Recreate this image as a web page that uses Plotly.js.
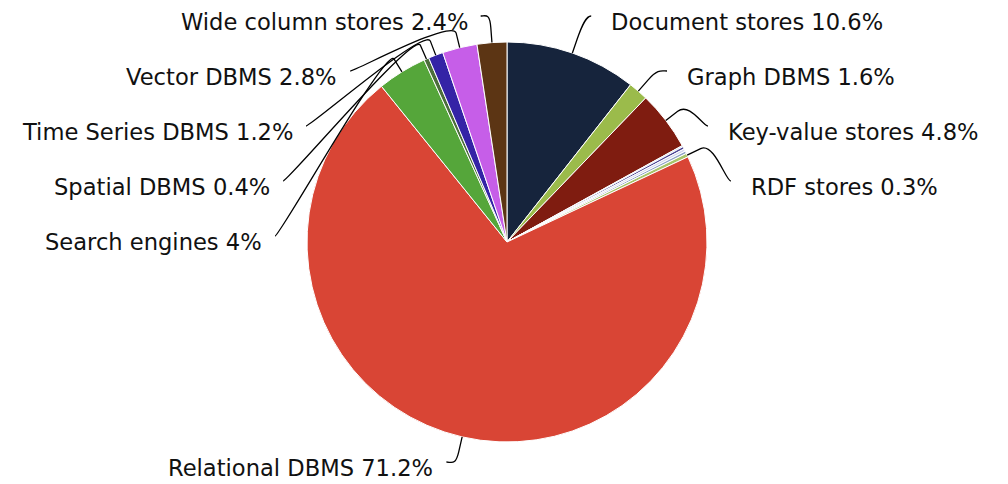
<!DOCTYPE html>
<html><head><meta charset="utf-8">
<script src="https://cdn.plot.ly/plotly-3.0.1.min.js"></script>
<style>html,body{margin:0;padding:0;background:#fff}</style>
</head><body><div id="chart" style="width:1008px;height:484px"></div>
<script>
const categories = ["Document stores","Graph DBMS","Key-value stores","Multivalue DBMS","Native XML DBMS","Navigational DBMS","Object oriented DBMS","RDF stores","Relational DBMS","Search engines","Spatial DBMS","Time Series DBMS","Vector DBMS","Wide column stores"];
const shares = [10.6, 1.6, 4.8, 0.1, 0.2, 0.2, 0.2, 0.3, 71.2, 4, 0.4, 1.2, 2.8, 2.4];
const sliceColors = ["#16243c","#9bbb4b","#7f1c10","#b3cbe6","#4d4796","#d4d6ee","#8fa3c6","#a7c46a","#d94535","#55a63a","#4b6e3b","#3423a6","#c65ee8","#5c3514"];
const minLabelShare = 0.3;

const W = 1008, H = 484;
const CX = 507, CY = 242, RAD = 200;
const LABEL_DIST = 30, BREAK_DIST = 15, CIRCLE_R = 232;
const TOP = 16, BOTTOM = 462, GAP = 55;
const FONT = {family: "DejaVu Sans", size: 22.6, color: "#111"};

const px2x = p => p / W;
const py2y = p => 1 - p / H;

const total = shares.reduce((a, b) => a + b, 0);
let cum = 0;
const items = [];
shares.forEach((v, i) => {
  const mid = (cum + v / 2) / total * 2 * Math.PI;
  cum += v;
  if (v < minLabelShare) return;
  const s = Math.sin(mid), c = Math.cos(mid);
  items.push({
    i, mid, s, c,
    left: s < 0,
    nx: CX + (RAD + LABEL_DIST) * s,
    ny: CY - (RAD + LABEL_DIST) * c,
    tx: CX + RAD * s, ty: CY - RAD * c,
    bx: CX + (RAD + BREAK_DIST) * s, by: CY - (RAD + BREAK_DIST) * c,
    text: categories[i] + " " + v + "%"
  });
});

function distribute(list) {
  list.sort((a, b) => a.ny - b.ny);
  let groups = list.map(it => ({items: [it]}));
  const place = g => {
    const n = g.items.length;
    const mean = g.items.reduce((s, it) => s + it.ny, 0) / n;
    let start = mean - (n - 1) * GAP / 2;
    start = Math.max(TOP, Math.min(start, BOTTOM - (n - 1) * GAP));
    g.start = start;
  };
  groups.forEach(place);
  let merged = true;
  while (merged) {
    merged = false;
    for (let k = 0; k < groups.length - 1; k++) {
      const a = groups[k], b = groups[k + 1];
      if (a.start + a.items.length * GAP > b.start) {
        a.items = a.items.concat(b.items);
        groups.splice(k + 1, 1);
        place(a);
        merged = true;
        break;
      }
    }
  }
  groups.forEach(g => g.items.forEach((it, j) => { it.y = g.start + j * GAP; }));
}
distribute(items.filter(it => !it.left));
distribute(items.filter(it => it.left));

const shapes = [], annotations = [];
items.forEach(it => {
  const dir = it.left ? -1 : 1;
  let xe;
  if (Math.abs(it.y - it.ny) <= 10) xe = it.nx + dir * 9;
  else xe = CX + dir * Math.sqrt(Math.max(0, CIRCLE_R * CIRCLE_R - (it.y - CY) * (it.y - CY)));
  const ye = it.y;
  const c1x = xe - dir * 5, c1y = ye;
  const c2x = 2 * it.bx - it.tx, c2y = 2 * it.by - it.ty;
  const path = `M${px2x(xe)},${py2y(ye)} C${px2x(c1x)},${py2y(c1y)} ${px2x(c2x)},${py2y(c2y)} ${px2x(it.bx)},${py2y(it.by)} L${px2x(it.tx)},${py2y(it.ty)}`;
  shapes.push({type: "path", xref: "paper", yref: "paper", path, line: {color: "#000", width: 1.3}, layer: "above"});
  const xt = it.left ? xe - 11 : xe + 18;
  annotations.push({
    xref: "paper", yref: "paper", x: px2x(xt), y: py2y(ye + 6),
    xanchor: it.left ? "right" : "left", yanchor: "middle",
    text: it.text, showarrow: false, font: FONT
  });
});

const trace = {
  type: "pie",
  labels: categories,
  values: shares,
  sort: false,
  direction: "clockwise",
  rotation: 0,
  textinfo: "none",
  hoverinfo: "label+percent",
  marker: {colors: sliceColors, line: {color: "#ffffff", width: 1}},
  domain: {x: [(CX - RAD) / W, (CX + RAD) / W], y: [1 - (CY + RAD) / H, 1 - (CY - RAD) / H]},
  showlegend: false
};

Plotly.newPlot("chart", [trace], {
  width: W, height: H,
  margin: {l: 0, r: 0, t: 0, b: 0},
  paper_bgcolor: "#fff",
  showlegend: false,
  shapes, annotations
}, {displayModeBar: false, staticPlot: true});
</script></body></html>
